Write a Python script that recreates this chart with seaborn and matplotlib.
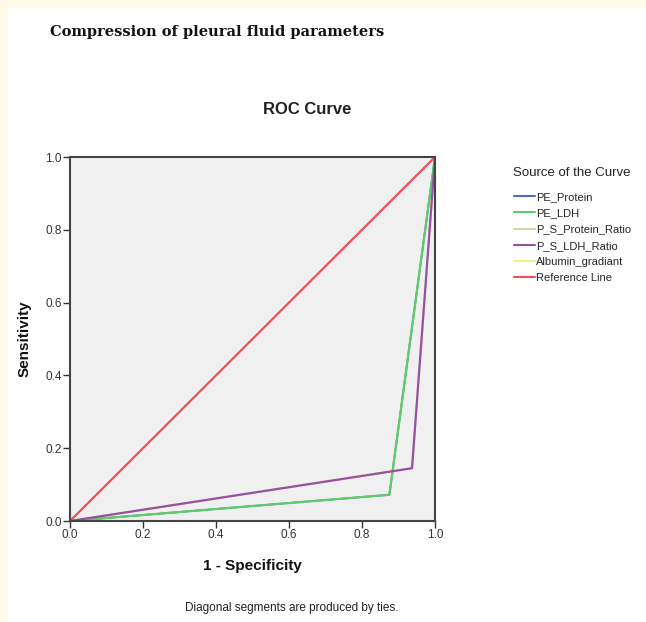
import matplotlib
matplotlib.use("Agg")
import matplotlib.pyplot as plt
import seaborn as sns
import pandas as pd
from matplotlib.patches import Rectangle

sns.set_theme(style="white")
plt.rcParams['font.family'] = ['Liberation Sans', 'DejaVu Sans']

series_names = ["PE_Protein", "PE_LDH", "P_S_Protein_Ratio", "P_S_LDH_Ratio",
                "Albumin_gradiant", "Reference Line"]
series_colors = ["#4A6BC8", "#5ECC6A", "#D8D2B0", "#9650A6", "#F5F07A", "#EE5055"]
fpr_pe_protein = [0.0, 0.875, 1.0]
tpr_pe_protein = [0.0, 0.072, 1.0]
fpr_pe_ldh = [0.0, 0.875, 1.0]
tpr_pe_ldh = [0.0, 0.072, 1.0]
fpr_ps_protein = [0.0, 0.937, 1.0]
tpr_ps_protein = [0.0, 0.145, 1.0]
fpr_ps_ldh = [0.0, 0.937, 1.0]
tpr_ps_ldh = [0.0, 0.145, 1.0]
fpr_albumin = [0.0, 0.937, 1.0]
tpr_albumin = [0.0, 0.145, 1.0]
fpr_ref = [0.0, 1.0]
tpr_ref = [0.0, 1.0]
ticks = [0.0, 0.2, 0.4, 0.6, 0.8, 1.0]
tick_labels = ["0.0", "0.2", "0.4", "0.6", "0.8", "1.0"]

xs = [fpr_pe_protein, fpr_pe_ldh, fpr_ps_protein, fpr_ps_ldh, fpr_albumin, fpr_ref]
ys = [tpr_pe_protein, tpr_pe_ldh, tpr_ps_protein, tpr_ps_ldh, tpr_albumin, tpr_ref]

fig = plt.figure(figsize=(6.46, 6.22), dpi=100)
fig.patch.set_facecolor("white")
# light yellow border at top and left
fig.patches.append(Rectangle((0, 1 - 8 / 622), 1, 8 / 622, transform=fig.transFigure,
                             facecolor="#FFFAE6", edgecolor="none", zorder=-1))
fig.patches.append(Rectangle((0, 0), 8 / 646, 1, transform=fig.transFigure,
                             facecolor="#FFFAE6", edgecolor="none", zorder=-1))

ax = fig.add_axes([70 / 646, 1 - 521 / 622, 365 / 646, 364 / 622])
ax.set_facecolor("#F0F0F0")

# draw order: hidden ones first
order = [0, 2, 4, 1, 3, 5]
handles = {}
for i in order:
    df = pd.DataFrame({"x": xs[i], "y": ys[i]})
    sns.lineplot(data=df, x="x", y="y", ax=ax, sort=False, estimator=None,
                 color=series_colors[i], linewidth=1.3 if i in (0, 2, 4) else 1.6)
    handles[i] = ax.lines[-1]

ax.set_xlim(0, 1)
ax.set_ylim(0, 1)
ax.set_xticks(ticks)
ax.set_xticklabels(tick_labels)
ax.set_yticks(ticks)
ax.set_yticklabels(tick_labels)
ax.tick_params(axis="both", direction="out", length=5, width=1, color="#333333",
               labelsize=8.5, labelcolor="#333333", pad=1, bottom=True, left=True)
for s in ax.spines.values():
    s.set_color("#444444")
    s.set_linewidth(1.5)
ax.set_xlabel("1 - Specificity", fontsize=11, fontweight="bold", color="#111111", labelpad=13)
ax.set_ylabel("Sensitivity", fontsize=11, fontweight="bold", color="#111111", labelpad=10)

leg = fig.legend([handles[i] for i in range(6)], series_names,
                 loc="upper left", bbox_to_anchor=(514 / 646, 1 - 192 / 622),
                 frameon=False, fontsize=8, handlelength=1.9, handletextpad=0.1,
                 labelspacing=0.56, borderaxespad=0, borderpad=0)
for line in leg.get_lines():
    line.set_linewidth(1.5)
fig.text(513 / 646, 1 - 173 / 622, "Source of the Curve", ha="left", va="center",
         fontsize=9.5, color="#222222")

fig.text(307 / 646, 1 - 110 / 622, "ROC Curve", ha="center", va="center",
         fontsize=12, fontweight="bold", color="#222222")
fig.text(50 / 646, 1 - 32 / 622, "Compression of pleural fluid parameters",
         ha="left", va="center", fontsize=10.5, fontweight="bold",
         family=["DejaVu Serif"], color="#111111")
fig.text(292 / 646, 1 - 608 / 622, "Diagonal segments are produced by ties.",
         ha="center", va="center", fontsize=8.5, color="#222222")

fig.savefig("out.png", dpi=100)
